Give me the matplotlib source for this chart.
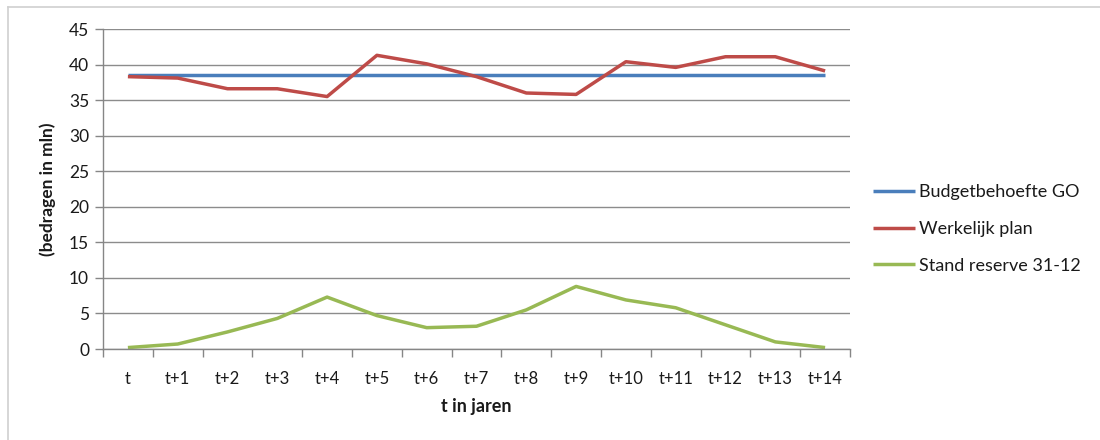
import matplotlib
matplotlib.use("Agg")
import matplotlib.pyplot as plt
from matplotlib.lines import Line2D
import numpy as np

categories = ["t", "t+1", "t+2", "t+3", "t+4", "t+5", "t+6", "t+7", "t+8", "t+9",
              "t+10", "t+11", "t+12", "t+13", "t+14"]
budget = [38.5] * 15
werkelijk = [38.3, 38.1, 36.6, 36.6, 35.5, 41.3, 40.1, 38.3, 36.0, 35.8,
             40.4, 39.6, 41.1, 41.1, 39.1]
reserve = [0.2, 0.7, 2.4, 4.3, 7.3, 4.7, 3.0, 3.2, 5.5, 8.8,
           6.9, 5.8, 3.4, 1.0, 0.2]
yticks = [0, 5, 10, 15, 20, 25, 30, 35, 40, 45]

plt.rcParams['font.family'] = ['Lato', 'DejaVu Sans']

fig = plt.figure(figsize=(11, 4.4), dpi=100)
W, H = 1100, 440
ax = fig.add_axes([103 / W, 1 - 349 / H, 747 / W, 320 / H])

x = np.arange(len(categories))
ax.plot(x, budget, color="#4a7ebb", lw=2.5, label="Budgetbehoefte GO", solid_capstyle="butt")
ax.plot(x, werkelijk, color="#be4b48", lw=2.5, label="Werkelijk plan", solid_capstyle="butt")
ax.plot(x, reserve, color="#98b954", lw=2.5, label="Stand reserve 31-12", solid_capstyle="butt")

ax.set_xlim(-0.5, len(categories) - 0.5)
ax.set_ylim(0, 45)
ax.set_yticks(yticks)
ax.set_xticks(x)
ax.set_xticklabels(categories)
ax.set_xticks(np.arange(-0.5, len(categories), 1), minor=True)
ax.tick_params(axis="x", which="major", length=0, pad=16, labelsize=12, colors="#1a1a1a")
ax.tick_params(axis="x", which="minor", length=6, color="#868686", width=1)
ax.tick_params(axis="y", length=6, color="#868686", width=1, labelsize=12.5, colors="#1a1a1a", pad=4)

ax.grid(axis="y", color="#8c8c8c", lw=1)
ax.set_axisbelow(True)
for s in ["top", "right"]:
    ax.spines[s].set_visible(False)
for s in ["left", "bottom"]:
    ax.spines[s].set_color("#868686")
    ax.spines[s].set_linewidth(1)

ax.set_xlabel("t in jaren", fontsize=13, fontweight="bold", labelpad=8, color="#1a1a1a")
ax.set_ylabel("(bedragen in mln)", fontsize=12.5, fontweight="bold", labelpad=9, color="#1a1a1a")

leg = fig.legend(loc="upper left", bbox_to_anchor=(866 / W, 1 - 177 / H), frameon=False,
                 fontsize=13, handlelength=2.3, handletextpad=0.25, labelspacing=1.15,
                 borderaxespad=0, labelcolor="#1a1a1a")

# outer chart frame (top and left edges)
fig.add_artist(Line2D([8 / W, 1.0], [1 - 7 / H, 1 - 7 / H], color="#d0d0d0", lw=1.2))
fig.add_artist(Line2D([8 / W, 8 / W], [0, 1 - 7 / H], color="#d0d0d0", lw=1.2))

fig.savefig("out.png", dpi=100, facecolor="white")
